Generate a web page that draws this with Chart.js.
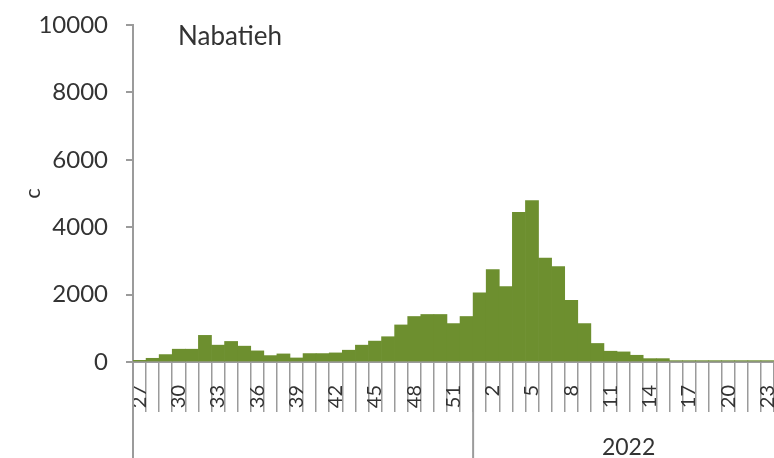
<!DOCTYPE html>
<html>
<head>
<meta charset="utf-8">
<script src="https://cdn.jsdelivr.net/npm/chart.js@4.4.0/dist/chart.umd.min.js"></script>
<style>
  html, body { margin: 0; padding: 0; background: #fff; overflow: hidden; }
</style>
</head>
<body>
<canvas id="chart" width="774" height="458"></canvas>
<script>
const weeks = ["27", "28", "29", "30", "31", "32", "33", "34", "35", "36", "37", "38", "39",
  "40", "41", "42", "43", "44", "45", "46", "47", "48", "49", "50", "51", "52",
  "1", "2", "3", "4", "5", "6", "7", "8", "9", "10", "11", "12", "13", "14", "15",
  "16", "17", "18", "19", "20", "21", "22", "23"];
const cases = [50, 110, 220, 380, 380, 790, 500, 610, 470, 330, 190, 240, 120,
  250, 250, 270, 350, 500, 620, 750, 1100, 1350, 1410, 1410, 1140, 1350,
  2050, 2740, 2240, 4440, 4790, 3080, 2830, 1830, 1140, 550, 320, 300, 200, 100, 100,
  40, 40, 40, 40, 40, 40, 40, 40];
const yTicks = [0, 2000, 4000, 6000, 8000, 10000];
const yearLabels = ["", "2022"];
const yearWeekCounts = [26, 23];
const panelName = "Nabatieh";
const axisTitle = "c";

const family = "Lato, 'Open Sans', sans-serif";
const grey = "#9b9b9b";
const textColor = "#333333";
Chart.defaults.font.family = family;

// year bands under the week labels + panel name inside the plot
const yearBands = {
  id: "yearBands",
  afterDraw(chart) {
    const ctx = chart.ctx;
    const x = chart.scales.x;
    const area = chart.chartArea;
    const half = (x.getPixelForValue(1) - x.getPixelForValue(0)) / 2;
    ctx.save();
    ctx.strokeStyle = grey;
    ctx.lineWidth = 2;
    ctx.fillStyle = textColor;
    ctx.font = "23px " + family;
    ctx.textAlign = "center";
    let start = 0;
    yearWeekCounts.forEach((n, i) => {
      const left = x.getPixelForValue(start) - half;
      const right = x.getPixelForValue(start + n - 1) + half;
      ctx.beginPath();
      ctx.moveTo(left, area.bottom);
      ctx.lineTo(left, chart.height);
      ctx.stroke();
      ctx.fillText(yearLabels[i], (left + right) / 2 + 5, area.bottom + 93);
      start += n;
    });
    ctx.textAlign = "left";
    ctx.font = "26px " + family;
    ctx.fillText(panelName, area.left + 45, area.top + 20);
    ctx.restore();
  }
};

let myChart = new Chart(document.getElementById("chart"), {
  type: "bar",
  data: {
    labels: weeks,
    datasets: [{
      data: cases,
      backgroundColor: "#6d8f2f",
      borderWidth: 0,
      barPercentage: 1,
      categoryPercentage: 1
    }]
  },
  options: {
    responsive: false,
    animation: false,
    layout: { padding: { top: 25, right: 0, left: 0, bottom: 0 } },
    plugins: { legend: { display: false }, tooltip: { enabled: false } },
    scales: {
      x: {
        grid: { display: true, drawOnChartArea: false, tickLength: 50, color: grey, lineWidth: 1.5, offset: true },
        border: { display: true, color: grey, width: 2 },
        ticks: {
          autoSkip: false, minRotation: 90, maxRotation: 90, padding: -27,
          color: textColor, font: { size: 20 },
          callback: (v, i) => (i % 3 === 0 ? weeks[i] : "")
        },
        afterFit(s) { s.height = 96; s.paddingLeft = 0; s.paddingRight = 0; }
      },
      y: {
        min: 0,
        max: 10000,
        afterBuildTicks(s) { s.ticks = yTicks.map(v => ({ value: v })); },
        grid: { drawOnChartArea: false, tickLength: 7, color: grey, lineWidth: 2 },
        border: { color: grey, width: 2 },
        ticks: { padding: 18, color: textColor, font: { size: 24 }, callback: v => String(v) },
        title: { display: true, text: axisTitle, color: textColor, font: { size: 22 }, padding: { top: 20, bottom: 0 } },
        afterFit(s) { s.width = 133; s.paddingTop = 0; s.paddingBottom = 0; }
      }
    }
  },
  plugins: [yearBands]
});
</script>
</body>
</html>
